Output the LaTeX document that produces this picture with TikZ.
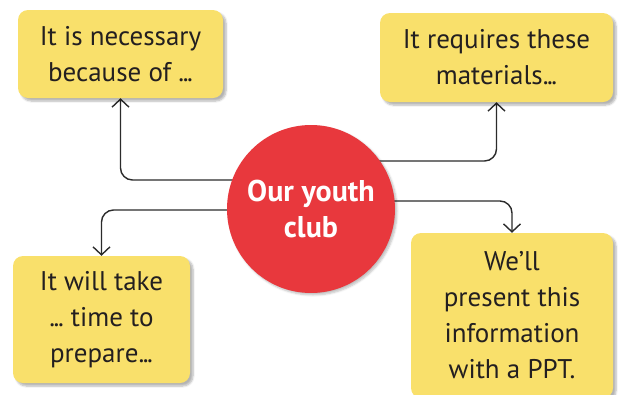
\documentclass[tikz,border=0pt]{standalone}
\usepackage{fontspec}
\setmainfont{PT Sans}
\usetikzlibrary{arrows.meta,backgrounds,shadows.blur}
\definecolor{ClubRed}{HTML}{E8383D}
\definecolor{NoteYellow}{HTML}{F9E06B}
\definecolor{NoteText}{HTML}{231F20}
\definecolor{LinkGrey}{HTML}{2B2B2B}
\newcommand{\tdots}{.\kern-1.5pt.\kern-1.5pt.}

\begin{document}
\begin{tikzpicture}[x=1pt,y=-1pt,
  note/.style={rounded corners=10pt,fill=NoteYellow,align=center,text=NoteText,inner sep=0pt,font=\fontsize{27}{36}\selectfont,blur shadow={shadow xshift=3pt,shadow yshift=-3pt,shadow blur steps=6,shadow opacity=30}},
  hub/.style={circle,fill=ClubRed,minimum size=168pt,inner sep=0pt,align=center,text=white,font=\bfseries\fontsize{30}{36}\selectfont,blur shadow={shadow xshift=2pt,shadow yshift=-2pt,shadow blur steps=5,shadow opacity=25}},
  link/.style={draw=LinkGrey,line width=1.4pt,rounded corners=12pt,-{Straight Barb[length=8pt,width=17pt,line width=1.4pt]}}
]
\useasboundingbox (0,0) rectangle (621,394);
\node[hub] (club) at (311,209) {Our youth\\club};
\node[note,minimum width=205pt,minimum height=88pt] (need) at (120.5,54) {It is necessary\\because of \tdots};
\node[note,minimum width=233pt,minimum height=89pt] (mat) at (496.5,57.5) {It requires these\\materials\tdots};
\node[note,minimum width=177pt,minimum height=127pt] (time) at (101.5,319.5) {It will take\\\tdots\ time to\\prepare\tdots};
\node[note,minimum width=202pt,minimum height=165pt] (ppt) at (512,315.5) {We’ll\\present this\\information\\with a PPT.};
\begin{scope}[on background layer]
\draw[link] ([yshift=29pt]club.center) -| (need.south);
\draw[link] ([yshift=48pt]club.center) -| (mat.south);
\draw[link] ([yshift=-1pt]club.center) -| (time.north);
\draw[link] ([yshift=8pt]club.center) -| (ppt.north);
\end{scope}
\end{tikzpicture}
\end{document}
